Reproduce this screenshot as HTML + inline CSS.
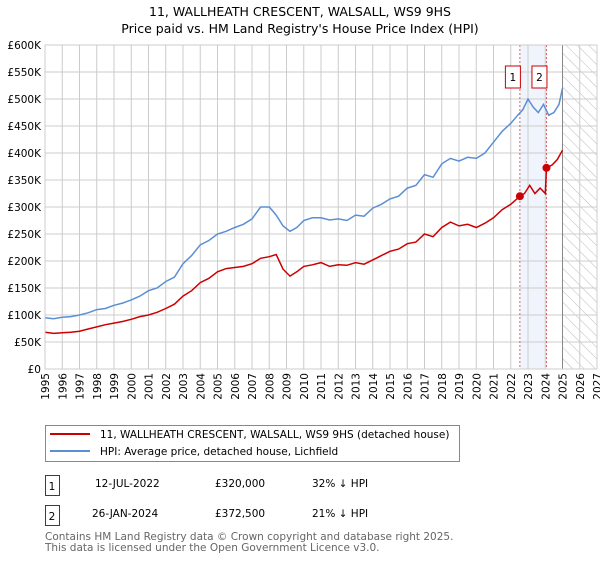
<!DOCTYPE html>
<html><head><meta charset="utf-8"><style>
body{margin:0;background:#fff;font-family:"Liberation Sans","DejaVu Sans",sans-serif;}
svg text{font-family:"DejaVu Sans","Liberation Sans",sans-serif;}
</style></head><body>
<svg width="600" height="560" xmlns="http://www.w3.org/2000/svg">
<defs><pattern id="hatch" width="8" height="8" patternUnits="userSpaceOnUse" patternTransform="rotate(-45)"><line x1="0" y1="0" x2="0" y2="8" stroke="#bbb" stroke-width="1"/></pattern></defs>
<text x="300" y="16" text-anchor="middle" font-size="12.5">11, WALLHEATH CRESCENT, WALSALL, WS9 9HS</text>
<text x="300" y="33" text-anchor="middle" font-size="12.5">Price paid vs. HM Land Registry's House Price Index (HPI)</text>
<g id="plot"></g>
<rect x="45" y="45" width="552" height="324" fill="none" stroke="#ccc"/>
<g>
<rect x="45.5" y="425.5" width="414" height="36" fill="#fff" stroke="#888"/>
<line x1="50" y1="434" x2="90" y2="434" stroke="#cc0000" stroke-width="2"/>
<text x="100" y="438" font-size="10.5">11, WALLHEATH CRESCENT, WALSALL, WS9 9HS (detached house)</text>
<line x1="50" y1="451" x2="90" y2="451" stroke="#5b8fd4" stroke-width="2"/>
<text x="100" y="455" font-size="10.5">HPI: Average price, detached house, Lichfield</text>
</g>
<g font-size="10.5">
<rect x="45.5" y="475.5" width="14" height="20" fill="none" stroke="#cc0000"/><text x="52" y="490" text-anchor="middle">1</text>
<text x="95" y="487" >12-JUL-2022</text><text x="215" y="487">£320,000</text><text x="312" y="487">32% ↓ HPI</text>
<rect x="45.5" y="505.5" width="14" height="20" fill="none" stroke="#cc0000"/><text x="52" y="520" text-anchor="middle">2</text>
<text x="92" y="517">26-JAN-2024</text><text x="215" y="517">£372,500</text><text x="312" y="517">21% ↓ HPI</text>
</g>
<text x="45" y="540" font-size="10.5" fill="#666">Contains HM Land Registry data © Crown copyright and database right 2025.</text>
<text x="45" y="551" font-size="10.5" fill="#666">This data is licensed under the Open Government Licence v3.0.</text>
</svg>
<script>
const yTicks=[0,50,100,150,200,250,300,350,400,450,500,550,600];
const xYears=[1995,1996,1997,1998,1999,2000,2001,2002,2003,2004,2005,2006,2007,2008,2009,2010,2011,2012,2013,2014,2015,2016,2017,2018,2019,2020,2021,2022,2023,2024,2025,2026,2027];
const hpiT=[1995,1995.5,1996,1996.5,1997,1997.5,1998,1998.5,1999,1999.5,2000,2000.5,2001,2001.5,2002,2002.5,2003,2003.5,2004,2004.5,2005,2005.5,2006,2006.5,2007,2007.5,2008,2008.4,2008.8,2009.2,2009.6,2010,2010.5,2011,2011.5,2012,2012.5,2013,2013.5,2014,2014.5,2015,2015.5,2016,2016.5,2017,2017.5,2018,2018.5,2019,2019.5,2020,2020.5,2021,2021.5,2022,2022.4,2022.7,2023,2023.3,2023.6,2023.9,2024.2,2024.5,2024.8,2025];
const hpiV=[95,93,96,97,100,104,110,112,118,122,128,135,145,150,162,170,195,210,230,238,250,255,262,268,278,300,300,285,265,255,262,275,280,280,276,278,275,285,283,298,305,315,320,335,340,360,355,380,390,385,392,390,400,420,440,455,470,480,500,485,475,490,470,475,490,520];
const salesT=[1995,1995.5,1996,1996.5,1997,1997.5,1998,1998.5,1999,1999.5,2000,2000.5,2001,2001.5,2002,2002.5,2003,2003.5,2004,2004.5,2005,2005.5,2006,2006.5,2007,2007.5,2008,2008.4,2008.8,2009.2,2009.6,2010,2010.5,2011,2011.5,2012,2012.5,2013,2013.5,2014,2014.5,2015,2015.5,2016,2016.5,2017,2017.5,2018,2018.5,2019,2019.5,2020,2020.5,2021,2021.5,2022,2022.53,2022.8,2023.1,2023.4,2023.7,2024.0,2024.07,2024.4,2024.7,2025];
const salesV=[68,66,67,68,70,74,78,82,85,88,92,97,100,105,112,120,135,145,160,168,180,186,188,190,195,205,208,212,185,172,180,190,193,197,190,193,192,197,194,202,210,218,222,232,235,250,245,262,272,265,268,262,270,280,295,305,320,325,340,325,335,325,372.5,378,388,405];
const saleDates=[2022.53,2024.07];
const saleVals=[320,372.5];
const X=t=>45+(t-1995)*552/32, Y=v=>369-v*324/600;
const NS="http://www.w3.org/2000/svg", g=document.getElementById('plot');
function mk(tag,a,parent){const e=document.createElementNS(NS,tag);for(const k in a)e.setAttribute(k,a[k]);(parent||g).appendChild(e);return e;}
let e;
e=mk('rect',{x:X(saleDates[0]),y:45,width:X(saleDates[1])-X(saleDates[0]),height:324,fill:'#f0f4fc'});


e=mk('rect',{x:X(2025),y:45,width:X(2027)-X(2025),height:324,fill:'url(#hatch)'});


yTicks.forEach(v=>{
 e=mk('line',{x1:45,x2:597,y1:Y(v),y2:Y(v),stroke:'#ccc'});
 
 
 e=mk('text',{x:41,y:Y(v)+4,'text-anchor':'end','font-size':10.5});
 e.textContent=v===0?'£0':'£'+v+'K';
 
 
});
xYears.forEach(yr=>{
 e=mk('line',{x1:X(yr),x2:X(yr),y1:45,y2:369,stroke:'#ccc'});
 
 
 e=mk('text',{x:0,y:0,'text-anchor':'end','font-size':10.5,transform:`translate(${X(yr)+4},373) rotate(-90)`});
 e.textContent=yr;
 
 
});
e=mk('line',{x1:X(2025),x2:X(2025),y1:45,y2:369,stroke:'#888'});


saleDates.forEach((d,i)=>{
 e=mk('line',{x1:X(d),x2:X(d),y1:45,y2:369,stroke:'#d04040','stroke-dasharray':'2,2','stroke-width':0.8});
 
 
 e=mk('rect',{x:X(d)-14.5,y:66,width:15,height:22,fill:'#fff',stroke:'#cc0000'});
 
 
 e=mk('text',{x:X(d)-7,y:81,'text-anchor':'middle','font-size':10.5});
 e.textContent=String(i+1);
 
 
});
function pathOf(T,V){return T.map((t,i)=>(i?'L':'M')+X(t).toFixed(1)+','+Y(V[i]).toFixed(1)).join('');}
e=mk('path',{d:pathOf(hpiT,hpiV),fill:'none',stroke:'#5b8fd4','stroke-width':1.5});


e=mk('path',{d:pathOf(salesT,salesV),fill:'none',stroke:'#cc0000','stroke-width':1.5});


saleDates.forEach((d,i)=>{
 e=mk('circle',{cx:X(d),cy:Y(saleVals[i]),r:4,fill:'#cc0000'});
 
 
});
</script>
</body></html>
